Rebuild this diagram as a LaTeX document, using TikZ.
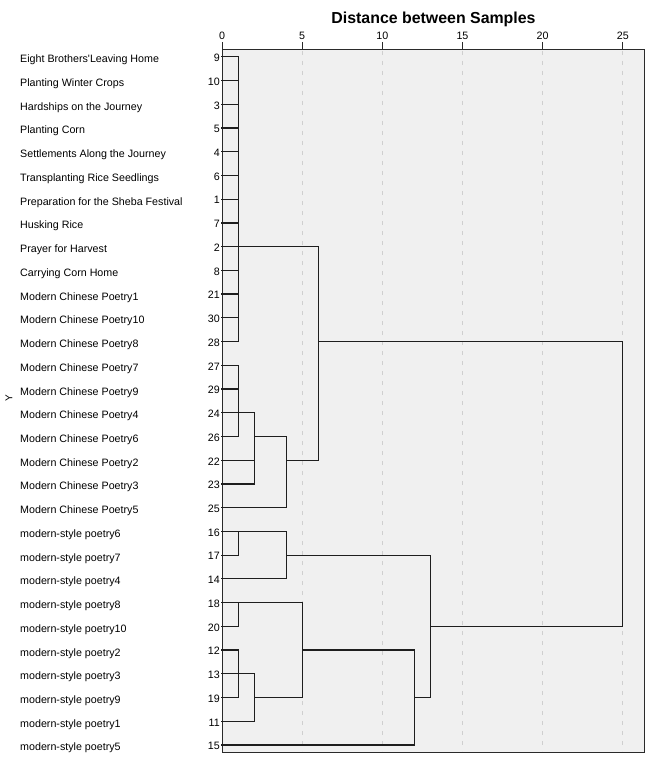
\documentclass[tikz,border=0pt]{standalone}
\usepackage{fontspec}
\setmainfont{Liberation Sans}
\definecolor{plotbg}{HTML}{F0F0F0}
\definecolor{frame}{HTML}{2A2A2A}
\definecolor{gridc}{HTML}{CFCFCF}
\definecolor{dend}{HTML}{1E1E1E}
\tikzset{
  namelab/.style={anchor=base west, inner sep=0pt, font=\fontsize{10.7}{12}\selectfont},
  numlab/.style={anchor=base east, inner sep=0pt, font=\fontsize{10.7}{12}\selectfont},
  ticklab/.style={anchor=base, inner sep=0pt, font=\fontsize{10.7}{12}\selectfont},
  gridline/.style={draw=gridc, line width=0.9pt, dash pattern=on 4pt off 6pt},
  tickline/.style={draw=frame, line width=1pt},
  dendline/.style={draw=dend, line width=1.25pt, line cap=rect}
}
\begin{document}
\begin{tikzpicture}[x=1pt,y=-1pt]
\useasboundingbox (0,0) rectangle (653,762);
\fill[white] (0,0) rectangle (653,762);
% plot area
\node (plot) [draw=frame, line width=1pt, fill=plotbg, anchor=north west, inner sep=0pt, outer sep=0pt,
  minimum width=422pt, minimum height=702pt] at (222,50) {};
\foreach \d in {5,10,15,20,25}{
  \pgfmathsetmacro\xx{222+16.03*\d}
  \draw[gridline] (\xx,51) -- (\xx,751);
}
\foreach \d in {0,5,10,15,20,25}{
  \pgfmathsetmacro\xx{222+16.03*\d}
  \draw[tickline] (\xx,42.5) -- (\xx,50);
  \node[ticklab] (t\d) at (\xx,39.5) {\d};
}
\node[anchor=base, inner sep=0pt, font=\fontsize{15.9}{18}\selectfont\bfseries] (title) at (433.5,24) {Distance between Samples};
\node[rotate=90, inner sep=0pt, font=\fontsize{10}{12}\selectfont] (ylab) at (9,398) {Y};
% rows
\foreach \i/\n/\t in {
 0/9/{Eight Brothers\textquotesingle Leaving Home},
 1/10/{Planting Winter Crops},
 2/3/{Hardships on the Journey},
 3/5/{Planting Corn},
 4/4/{Settlements Along the Journey},
 5/6/{Transplanting Rice Seedlings},
 6/1/{Preparation for the Sheba Festival},
 7/7/{Husking Rice},
 8/2/{Prayer for Harvest},
 9/8/{Carrying Corn Home},
 10/21/{Modern Chinese Poetry1},
 11/30/{Modern Chinese Poetry10},
 12/28/{Modern Chinese Poetry8},
 13/27/{Modern Chinese Poetry7},
 14/29/{Modern Chinese Poetry9},
 15/24/{Modern Chinese Poetry4},
 16/26/{Modern Chinese Poetry6},
 17/22/{Modern Chinese Poetry2},
 18/23/{Modern Chinese Poetry3},
 19/25/{Modern Chinese Poetry5},
 20/16/{modern-style poetry6},
 21/17/{modern-style poetry7},
 22/14/{modern-style poetry4},
 23/18/{modern-style poetry8},
 24/20/{modern-style poetry10},
 25/12/{modern-style poetry2},
 26/13/{modern-style poetry3},
 27/19/{modern-style poetry9},
 28/11/{modern-style poetry1},
 29/15/{modern-style poetry5}}{
  \pgfmathsetmacro\yy{56.8+23.73*\i}
  \coordinate (r\i) at (222,\yy);
  \node[namelab] (l\i) at (20,\yy+6) {\t};
  \node[numlab] (n\i) at (220,\yy+4.8) {\n};
}
% merge points (x = merge distance, y = row of outgoing line)
\coordinate (mA)   at (238.5, 0|-r8);
\coordinate (mB1)  at (238.5, 0|-r15);
\coordinate (mB2)  at (254.5, 0|-r16);
\coordinate (mB3)  at (286.5, 0|-r17);
\coordinate (mAB)  at (318.5, 0|-r12);
\coordinate (mC1)  at (238.5, 0|-r20);
\coordinate (mC2)  at (286.5, 0|-r21);
\coordinate (mD1)  at (238.5, 0|-r23);
\coordinate (mD2)  at (238.5, 0|-r26);
\coordinate (mD3)  at (254.5, 0|-r27);
\coordinate (mD4)  at (302.5, 0|-r25);
\coordinate (mD5)  at (414.5, 0|-r27);
\coordinate (mCD)  at (430.5, 0|-r24);
\coordinate (root) at (622.5, 0|-r18);
% dendrogram
\foreach \i in {0,...,12}{ \draw[dendline] (r\i) -| (mA); }
\foreach \i in {13,...,16}{ \draw[dendline] (r\i) -| (mB1); }
\draw[dendline] (mB1) -| (mB2);
\draw[dendline] (r17) -| (mB2);
\draw[dendline] (r18) -| (mB2);
\draw[dendline] (mB2) -| (mB3);
\draw[dendline] (r19) -| (mB3);
\draw[dendline] (mA) -| (mAB);
\draw[dendline] (mB3) -| (mAB);
\draw[dendline] (r20) -| (mC1);
\draw[dendline] (r21) -| (mC1);
\draw[dendline] (mC1) -| (mC2);
\draw[dendline] (r22) -| (mC2);
\draw[dendline] (r23) -| (mD1);
\draw[dendline] (r24) -| (mD1);
\draw[dendline] (r25) -| (mD2);
\draw[dendline] (r26) -| (mD2);
\draw[dendline] (r27) -| (mD2);
\draw[dendline] (mD2) -| (mD3);
\draw[dendline] (r28) -| (mD3);
\draw[dendline] (mD1) -| (mD4);
\draw[dendline] (mD3) -| (mD4);
\draw[dendline] (mD4) -| (mD5);
\draw[dendline] (r29) -| (mD5);
\draw[dendline] (mC2) -| (mCD);
\draw[dendline] (mD5) -| (mCD);
\draw[dendline] (mAB) -| (root);
\draw[dendline] (mCD) -| (root);
\end{tikzpicture}
\end{document}
